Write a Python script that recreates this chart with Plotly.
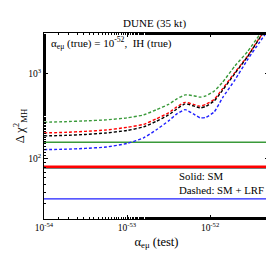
import plotly.graph_objects as go

# x values: alpha_emu (test), given as log10 exponents
alpha_test_exp = [-54, -53.75, -53.5, -53.25, -53, -52.8, -52.65, -52.5, -52.4, -52.3,
                  -52.2, -52.12, -52.05, -51.95, -51.85, -51.7, -51.55, -51.4, -51.28]
alpha_test = [10 ** e for e in alpha_test_exp]

# Dashed: SM + LRF
chi2_lrf_green = [270, 274, 280, 288, 304, 329, 377, 438, 508, 566, 554, 533, 551, 626, 794, 1242, 1815, 2915, 4203]
chi2_lrf_red   = [202, 205, 211, 219, 235, 255, 295, 348, 409, 462, 438, 417, 438, 501, 666, 1041, 1607, 2681, 3874]
chi2_lrf_black = [186.5, 189, 194, 202, 216, 238, 276, 329, 387, 444, 420, 398, 415, 481, 640, 1014, 1585, 2652, 3822]
chi2_lrf_blue  = [128.7, 130, 133, 138, 152, 177, 219, 280, 338, 380, 338, 304, 308, 357, 522, 850, 1461, 2379, 3477]

# Solid: SM (constant)
chi2_sm_green = 157
chi2_sm_red = 81
chi2_sm_black = 78.5
chi2_sm_blue = 34

x_ticks = [1e-54, 1e-53, 1e-52]
x_ticktext = ["10<sup>-54</sup>", "10<sup>-53</sup>", "10<sup>-52</sup>"]
y_ticks = [100, 1000]
y_ticktext = ["10<sup>2</sup>", "10<sup>3</sup>"]

GREEN = "#3a9a3a"
RED = "#ff0000"
BLACK = "#000000"
BLUE = "#1f1fff"

fig = go.Figure()
xr = [alpha_test[0], alpha_test[-1]]
for val, col, w in [(chi2_sm_green, GREEN, 1.3), (chi2_sm_black, BLACK, 1.3),
                    (chi2_sm_red, RED, 2.6), (chi2_sm_blue, BLUE, 1.3)]:
    fig.add_trace(go.Scatter(x=xr, y=[val, val], mode="lines",
                             line=dict(color=col, width=w), showlegend=False))

for ys, col in [(chi2_lrf_green, GREEN), (chi2_lrf_red, RED),
                (chi2_lrf_black, BLACK), (chi2_lrf_blue, BLUE)]:
    fig.add_trace(go.Scatter(x=alpha_test, y=ys, mode="lines",
                             line=dict(color=col, width=1.4, dash="3px,2px", shape="spline", smoothing=0.5),
                             showlegend=False))

fig.update_layout(
    width=274, height=257,
    margin=dict(l=32, r=13, t=25, b=46),
    paper_bgcolor="white", plot_bgcolor="white",
    font=dict(family="Liberation Serif", size=10, color="black"),
    title=dict(text="DUNE (35 kt)", x=0.535, xanchor="center", y=0.94, yanchor="middle",
               font=dict(family="Liberation Serif", size=11, color="black")),
)
fig.update_xaxes(type="log", range=[-54, -51.29], showgrid=False, zeroline=False,
                 showline=True, linecolor="black", linewidth=1, mirror="ticks",
                 ticks="inside", ticklen=4, tickcolor="black",
                 tickvals=x_ticks, ticktext=x_ticktext, tickfont=dict(size=9.5),
                 minor=dict(ticks="inside", ticklen=2, tickcolor="black", showgrid=False),
                 title=dict(text="α<sub>eμ</sub> (test)", font=dict(size=12.5), standoff=4))
fig.update_yaxes(type="log", range=[1.294, 3.48], showgrid=False, zeroline=False,
                 showline=True, linecolor="black", linewidth=1, mirror="ticks",
                 ticks="inside", ticklen=4, tickcolor="black",
                 tickvals=y_ticks, ticktext=y_ticktext, tickfont=dict(size=9.5),
                 minor=dict(ticks="inside", ticklen=2, tickcolor="black", showgrid=False),
                 title=dict(text="Δ χ<sup>2</sup><sub>MH</sub>", font=dict(size=12.5), standoff=0))

fig.add_annotation(x=0.02, y=0.945, xref="paper", yref="paper", xanchor="left", yanchor="middle",
                   text="α<sub>eμ</sub> (true) = 10<sup>-52</sup>,  IH (true)", showarrow=False,
                   font=dict(size=11))
fig.add_annotation(x=0.59, y=0.233, xref="paper", yref="paper", xanchor="left", yanchor="middle",
                   text="Solid: SM", showarrow=False, font=dict(size=10.8))
fig.add_annotation(x=0.59, y=0.158, xref="paper", yref="paper", xanchor="left", yanchor="middle",
                   text="Dashed: SM + LRF", showarrow=False, font=dict(size=10.8))

fig.write_html("out.html")
